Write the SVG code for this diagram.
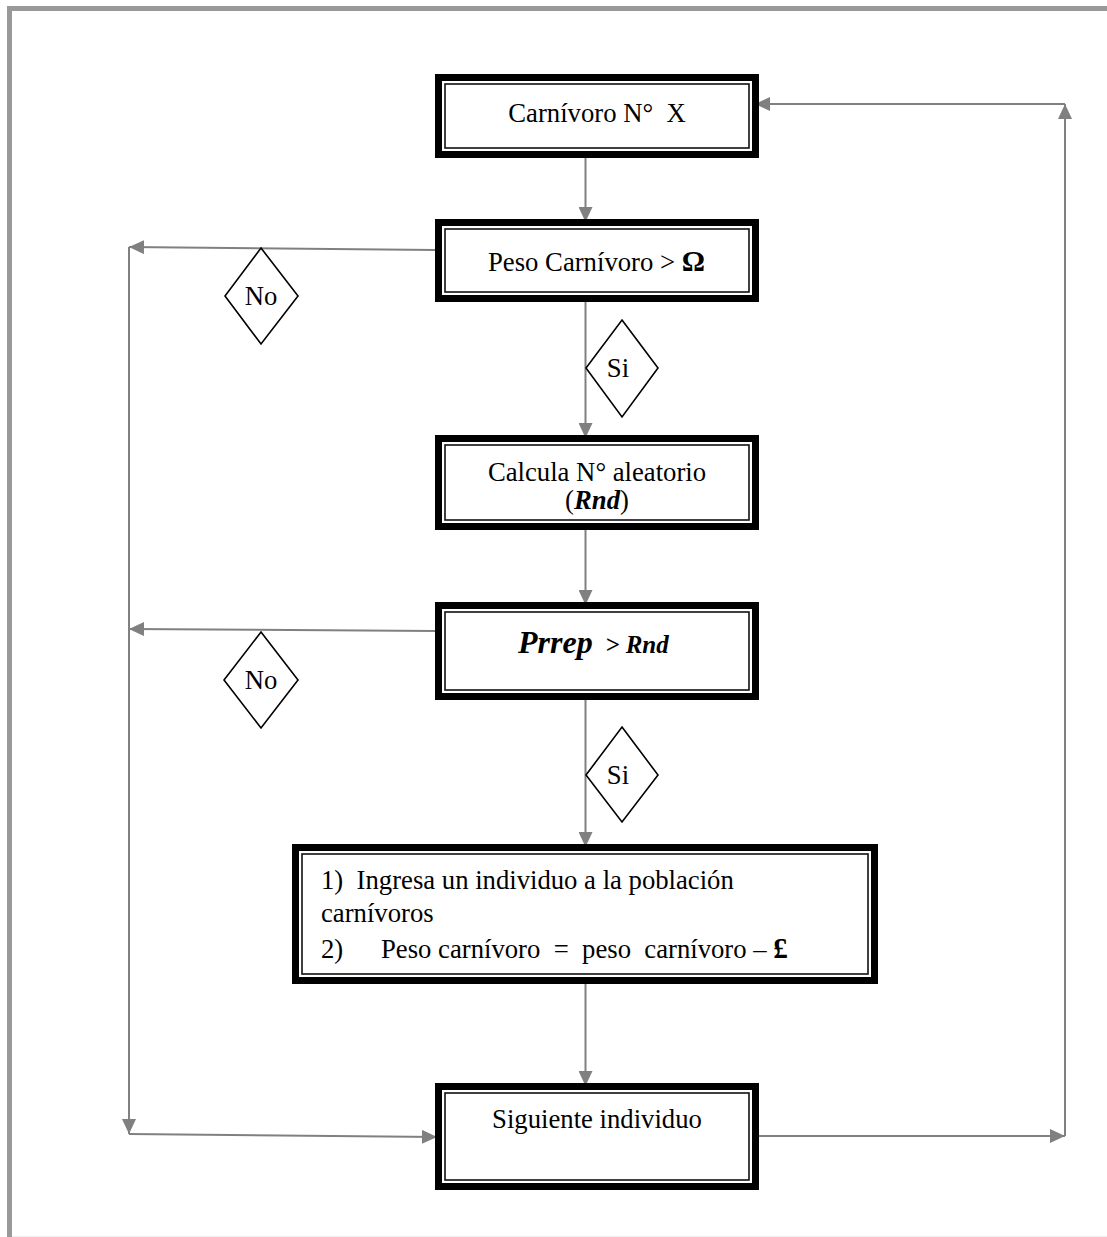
<svg xmlns="http://www.w3.org/2000/svg" width="1107" height="1237" viewBox="0 0 1107 1237">
  <defs>
    <marker id="arrow" markerUnits="userSpaceOnUse" markerWidth="15" markerHeight="14" refX="15" refY="7" orient="auto">
      <path d="M0,0 L15,7 L0,14 z" fill="#808080"/>
    </marker>
  </defs>
  <style>
    .frame { fill: none; stroke: #999999; stroke-width: 5; }
    .band { fill: #ffffff; stroke: #000000; stroke-width: 7; }
    .inner { fill: none; stroke: #111111; stroke-width: 1.6; }
    .conn { fill: none; stroke: #808080; stroke-width: 2; }
    .dia { fill: #ffffff; stroke: #000000; stroke-width: 1.6; }
    .t { font-family: "Liberation Serif", "Times New Roman", serif; font-size: 26.7px; fill: #000000; }
    .c { text-anchor: middle; }
    .bi { font-weight: bold; font-style: italic; }
    .b { font-weight: bold; }
  </style>

  <!-- page frame -->
  <rect x="0" y="0" width="1107" height="1237" fill="#ffffff"/>
  <path class="frame" d="M9.5,1237 L9.5,8.5 L1107,8.5"/>
  <line x1="12" y1="1236.5" x2="1107" y2="1236.5" stroke="#eeeeee" stroke-width="1"/>

  <!-- connectors -->
  <g id="connectors">
    <line class="conn" x1="585.5" y1="158" x2="585.5" y2="222" marker-end="url(#arrow)"/>
    <line class="conn" x1="585.5" y1="302" x2="585.5" y2="438" marker-end="url(#arrow)"/>
    <line class="conn" x1="585.5" y1="530" x2="585.5" y2="605" marker-end="url(#arrow)"/>
    <line class="conn" x1="585.5" y1="700" x2="585.5" y2="847" marker-end="url(#arrow)"/>
    <line class="conn" x1="585.5" y1="984" x2="585.5" y2="1086" marker-end="url(#arrow)"/>
    <!-- "No" branches to the left rail -->
    <line class="conn" x1="435" y1="250" x2="129" y2="247" marker-end="url(#arrow)"/>
    <line class="conn" x1="435" y1="631" x2="129" y2="629" marker-end="url(#arrow)"/>
    <line class="conn" x1="129" y1="247" x2="129" y2="1134" marker-end="url(#arrow)"/>
    <line class="conn" x1="129" y1="1134" x2="437" y2="1137" marker-end="url(#arrow)"/>
    <!-- loop back to the next individual -->
    <line class="conn" x1="759" y1="1136" x2="1065" y2="1136" marker-end="url(#arrow)"/>
    <line class="conn" x1="1065" y1="1136" x2="1065" y2="104" marker-end="url(#arrow)"/>
    <line class="conn" x1="1065" y1="104" x2="755" y2="104" marker-end="url(#arrow)"/>
  </g>

  <!-- process boxes -->
  <g id="carnivoro">
    <rect class="band" x="438.5" y="77.5" width="317" height="77"/>
    <rect class="inner" x="445" y="84" width="304" height="64"/>
    <text class="t c" x="597" y="122" xml:space="preserve">Carnívoro N°  X</text>
  </g>

  <g id="peso">
    <rect class="band" x="438.5" y="222.5" width="317" height="76"/>
    <rect class="inner" x="445" y="229" width="304" height="63"/>
    <text class="t" x="488" y="271">Peso Carnívoro &gt; <tspan class="b" font-size="29">Ω</tspan></text>
  </g>

  <g id="aleatorio">
    <rect class="band" x="438.5" y="438.5" width="317" height="88"/>
    <rect class="inner" x="445" y="445" width="304" height="75"/>
    <text class="t c" x="597" y="481">Calcula N° aleatorio</text>
    <text class="t c" x="597" y="509">(<tspan class="bi">Rnd</tspan>)</text>
  </g>

  <g id="prrep">
    <rect class="band" x="438.5" y="605.5" width="317" height="91"/>
    <rect class="inner" x="445" y="612" width="304" height="78"/>
    <text class="t bi" x="518" y="653" xml:space="preserve"><tspan font-size="32">Prrep</tspan><tspan font-size="25">  &gt; Rnd</tspan></text>
  </g>

  <g id="ingresa">
    <rect class="band" x="295.5" y="847.5" width="579" height="133"/>
    <rect class="inner" x="302" y="854" width="566" height="120"/>
    <text class="t" x="321" y="889" xml:space="preserve">1)  Ingresa un individuo a la población</text>
    <text class="t" x="321" y="922">carnívoros</text>
    <text class="t" x="321" y="958">2)</text>
    <text class="t" x="381" y="958" xml:space="preserve">Peso carnívoro  =  peso  carnívoro – <tspan class="b" font-size="29">£</tspan></text>
  </g>

  <g id="siguiente">
    <rect class="band" x="438.5" y="1086.5" width="317" height="100"/>
    <rect class="inner" x="445" y="1093" width="304" height="87"/>
    <text class="t c" x="597" y="1128">Siguiente individuo</text>
  </g>

  <!-- decision labels -->
  <g id="no1">
    <polygon class="dia" points="261,248 298,296 261,344 225,296"/>
    <text class="t c" x="261" y="305">No</text>
  </g>
  <g id="si1">
    <polygon class="dia" points="622,320 658,368 622,417 586,368"/>
    <text class="t c" x="618" y="377">Si</text>
  </g>
  <g id="no2">
    <polygon class="dia" points="261,632 298,680 261,728 224,680"/>
    <text class="t c" x="261" y="689">No</text>
  </g>
  <g id="si2">
    <polygon class="dia" points="622,727 658,775 622,822 586,775"/>
    <text class="t c" x="618" y="784">Si</text>
  </g>
</svg>
